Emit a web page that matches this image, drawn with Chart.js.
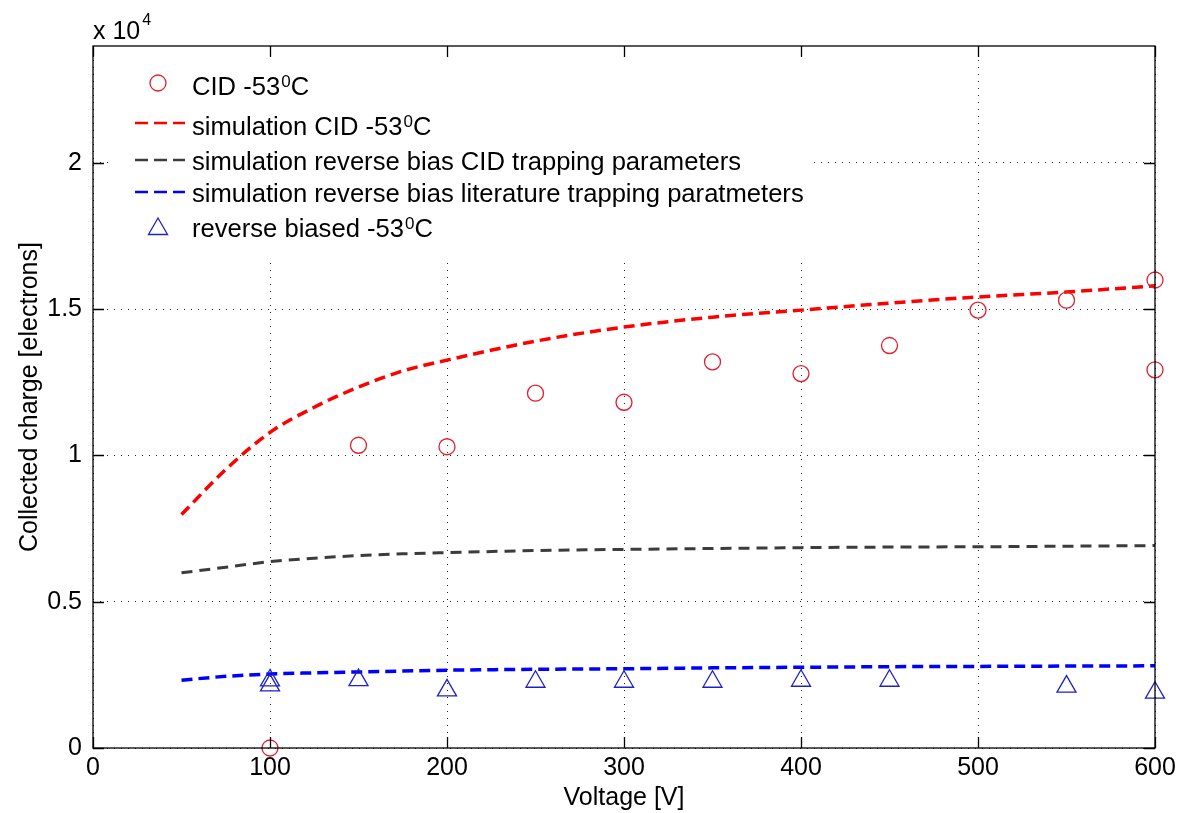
<!DOCTYPE html>
<html><head><meta charset="utf-8">
<script src="https://cdn.jsdelivr.net/npm/chart.js@4.4.0/dist/chart.umd.min.js"></script>
<style>html,body{margin:0;padding:0;background:#fff;} canvas{display:block;}</style>
</head><body>
<canvas id="c" width="1178" height="813"></canvas>
<script>
// ---- data ----
const xTickValues = [0, 100, 200, 300, 400, 500, 600];
const xTickLabels = ['0', '100', '200', '300', '400', '500', '600'];
const yTickValues = [0, 5000, 10000, 15000, 20000];
const yTickLabels = ['0', '0.5', '1', '1.5', '2'];

const voltageCID = [100, 150, 200, 250, 300, 350, 400, 450, 500, 550, 600, 600];
const chargeCID  = [0, 10350, 10300, 12130, 11820, 13200, 12800, 13760, 14970, 15310, 16000, 12930];

const simVoltage    = [50, 75, 100, 125, 150, 175, 200, 250, 300, 350, 400, 450, 500, 550, 600];
const simCID        = [7980, 9520, 10790, 11650, 12340, 12890, 13260, 13910, 14390, 14730, 14970, 15210, 15420, 15590, 15800];
const simRevCIDTrap = [5990, 6180, 6370, 6490, 6580, 6640, 6680, 6750, 6790, 6820, 6850, 6870, 6880, 6900, 6920];
const simRevLitTrap = [2320, 2450, 2530, 2570, 2600, 2630, 2660, 2690, 2710, 2740, 2760, 2780, 2790, 2800, 2810];

const voltageRB = [100, 100, 150, 200, 250, 300, 350, 400, 450, 550, 600];
const chargeRB  = [2310, 2140, 2320, 1970, 2265, 2265, 2265, 2300, 2300, 2100, 1890];

const seriesLabels = [
  'CID -53⁰C',
  'simulation CID -53⁰C',
  'simulation reverse bias CID trapping parameters',
  'simulation reverse bias literature trapping paratmeters',
  'reverse biased -53⁰C'
];
const xAxisTitle = 'Voltage [V]';
const yAxisTitle = 'Collected charge [electrons]';
const yExponentBase = 'x 10';
const yExponent = '4';

// ---- helpers ----
const pts = (xs, ys) => xs.map((x, i) => ({x: x, y: ys[i]}));
const FONT = '"Liberation Sans", Arial, sans-serif';
Chart.defaults.font.family = FONT;
Chart.defaults.color = '#000';

function drawRich(ctx, text, x, y, size) {
  const parts = text.split('⁰');
  let cx = x;
  ctx.textBaseline = 'alphabetic';
  ctx.textAlign = 'left';
  parts.forEach((p, i) => {
    ctx.font = size + 'px ' + FONT;
    ctx.fillText(p, cx, y);
    cx += ctx.measureText(p).width;
    if (i < parts.length - 1) {
      ctx.font = Math.round(size * 0.65) + 'px ' + FONT;
      ctx.fillText('0', cx + 1, y - 8);
      cx += ctx.measureText('0').width + 1;
    }
  });
}

const matlabPlugin = {
  id: 'matlab',
  beforeDraw(chart) {
    const c = chart.ctx;
    c.save(); c.fillStyle = '#fff'; c.fillRect(0, 0, chart.width, chart.height); c.restore();
  },
  afterDraw(chart) {
    const ctx = chart.ctx, a = chart.chartArea, xs = chart.scales.x, ys = chart.scales.y;
    const ds = chart.data.datasets;
    ctx.save();
    // legend background
    ctx.fillStyle = '#fff';
    ctx.fillRect(a.left + 16, a.top + 2, 813 - (a.left + 16), 258 - a.top - 2);
    // legend entries
    const rows = [
      {ds: 0, ly: 83,  ty: 95},
      {ds: 1, ly: 123, ty: 135},
      {ds: 2, ly: 160, ty: 170},
      {ds: 3, ly: 192, ty: 202},
      {ds: 4, ly: 229, ty: 237}
    ];
    const sx0 = 135, sx1 = 185, mx = 158, tx = 192;
    rows.forEach(r => {
      const d = ds[r.ds];
      ctx.fillStyle = '#000';
      drawRich(ctx, d.label, tx, r.ty, 25.6);
      if (d.showLine === false) {
        ctx.strokeStyle = d.borderColor;
        ctx.lineWidth = 1.3;
        ctx.setLineDash([]);
        ctx.beginPath();
        if (d.pointStyle === 'circle') {
          ctx.arc(mx, r.ly, 8, 0, Math.PI * 2);
        } else {
          const rr = 11;
          ctx.moveTo(mx, r.ly - rr);
          ctx.lineTo(mx + rr * Math.sin(2 * Math.PI / 3), r.ly - rr * Math.cos(2 * Math.PI / 3));
          ctx.lineTo(mx + rr * Math.sin(4 * Math.PI / 3), r.ly - rr * Math.cos(4 * Math.PI / 3));
          ctx.closePath();
        }
        ctx.stroke();
      } else {
        ctx.strokeStyle = d.borderColor;
        ctx.lineWidth = 2.5;
        ctx.setLineDash([13, 6]);
        ctx.beginPath(); ctx.moveTo(sx0, r.ly); ctx.lineTo(sx1, r.ly); ctx.stroke();
      }
    });
    // axes box
    ctx.setLineDash([]);
    ctx.strokeStyle = '#000';
    ctx.lineWidth = 1.3;
    ctx.strokeRect(a.left, a.top, a.right - a.left, a.bottom - a.top);
    const T = 11;
    ctx.beginPath();
    xTickValues.forEach(v => {
      const p = Math.round(xs.getPixelForValue(v)) + 0.5;
      ctx.moveTo(p, a.bottom); ctx.lineTo(p, a.bottom - T);
      ctx.moveTo(p, a.top); ctx.lineTo(p, a.top + T);
    });
    yTickValues.forEach(v => {
      const p = Math.round(ys.getPixelForValue(v)) + 0.5;
      ctx.moveTo(a.left, p); ctx.lineTo(a.left + T, p);
      ctx.moveTo(a.right, p); ctx.lineTo(a.right - T, p);
    });
    ctx.stroke();
    // exponent label
    ctx.fillStyle = '#000';
    ctx.textBaseline = 'alphabetic';
    ctx.textAlign = 'left';
    ctx.font = '25px ' + FONT;
    ctx.fillText(yExponentBase, a.left, 39);
    const w = ctx.measureText(yExponentBase).width;
    ctx.font = '16px ' + FONT;
    ctx.fillText(yExponent, a.left + w + 2, 25);
    ctx.restore();
  }
};

new Chart(document.getElementById('c'), {
  type: 'scatter',
  data: {
    datasets: [
      {
        label: seriesLabels[0], data: pts(voltageCID, chargeCID), showLine: false,
        pointStyle: 'circle', pointRadius: 8, pointBorderWidth: 1.3,
        borderColor: '#e0202e', pointBorderColor: '#e0202e', backgroundColor: 'rgba(0,0,0,0)', clip: false, order: 1
      },
      {
        label: seriesLabels[1], data: pts(simVoltage, simCID), showLine: true,
        borderColor: '#ff0000', borderWidth: 3.5, borderDash: [11, 6], pointRadius: 0,
        cubicInterpolationMode: 'monotone', clip: false, order: 2
      },
      {
        label: seriesLabels[2], data: pts(simVoltage, simRevCIDTrap), showLine: true,
        borderColor: '#3c3c3c', borderWidth: 3, borderDash: [11, 7], pointRadius: 0,
        cubicInterpolationMode: 'monotone', clip: false, order: 3
      },
      {
        label: seriesLabels[3], data: pts(simVoltage, simRevLitTrap), showLine: true,
        borderColor: '#0000ff', borderWidth: 3.5, borderDash: [11, 6], pointRadius: 0,
        cubicInterpolationMode: 'monotone', clip: false, order: 4
      },
      {
        label: seriesLabels[4], data: pts(voltageRB, chargeRB), showLine: false,
        pointStyle: 'triangle', pointRadius: 11, pointBorderWidth: 1.3,
        borderColor: '#2020c8', pointBorderColor: '#2020c8', backgroundColor: 'rgba(0,0,0,0)', clip: false, order: 0
      }
    ]
  },
  options: {
    responsive: false,
    animation: false,
    devicePixelRatio: 1,
    layout: {padding: {top: 46, right: 23, left: 0, bottom: 0}},
    plugins: {legend: {display: false}, tooltip: {enabled: false}},
    scales: {
      x: {
        type: 'linear', min: 0, max: 600,
        afterFit: s => { s.height = 65; s.paddingRight = 0; s.paddingLeft = 0; },
        afterBuildTicks: s => { s.ticks = xTickValues.map(v => ({value: v})); },
        ticks: {
          autoSkip: false, maxRotation: 0, padding: 5,
          font: {size: 25, family: FONT}, color: '#000',
          callback: v => xTickLabels[xTickValues.indexOf(v)]
        },
        grid: {color: '#222', lineWidth: 1, drawTicks: false},
        border: {display: false, dash: [1, 6]},
        title: {display: true, text: xAxisTitle, font: {size: 25, family: FONT}, color: '#000', padding: {top: 0, bottom: 0}}
      },
      y: {
        type: 'linear', min: 0, max: 24000,
        afterFit: s => { s.width = 93; s.paddingTop = 0; s.paddingBottom = 0; },
        afterBuildTicks: s => { s.ticks = yTickValues.map(v => ({value: v})); },
        ticks: {
          autoSkip: false, padding: 11,
          font: {size: 25, family: FONT}, color: '#000',
          callback: v => yTickLabels[yTickValues.indexOf(v)]
        },
        grid: {color: '#222', lineWidth: 1, drawTicks: false},
        border: {display: false, dash: [1, 6]},
        title: {display: true, text: yAxisTitle, font: {size: 25, family: FONT}, color: '#000', padding: {top: 15, bottom: 0}}
      }
    }
  },
  plugins: [matlabPlugin]
});
</script>
</body></html>
